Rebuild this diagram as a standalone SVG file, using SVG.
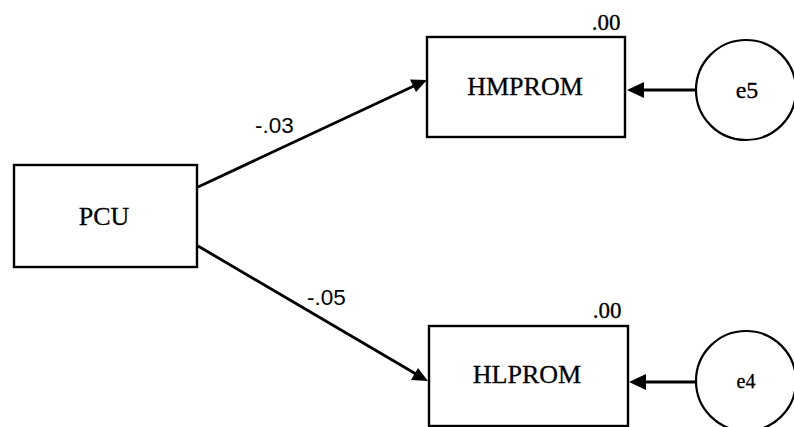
<svg xmlns="http://www.w3.org/2000/svg" width="794" height="427" viewBox="0 0 794 427">
<defs>
<style>
.box{fill:#fff;stroke:#000;stroke-width:2.4}
.circ{fill:#fff;stroke:#000;stroke-width:2.2}
.edge{stroke:#000;stroke-width:2.8;fill:none}
.head{fill:#000}
.t{font-family:"Liberation Serif","Times New Roman",serif;fill:#000;text-anchor:middle;stroke:#000;stroke-width:0.3}
.lbl{font-family:"Liberation Sans",Arial,sans-serif;fill:#000;font-size:22.5px}
</style>
</defs>
<rect width="794" height="427" fill="#fff"/>
<g id="connectors">
<line class="edge" x1="198" y1="187" x2="416" y2="85"/>
<path class="head" d="M427,80 L410,79.5 L416,92 z"/>
<line class="edge" x1="198" y1="246" x2="416" y2="374"/>
<path class="head" d="M428,381 L418,368 L411,380 z"/>
<line class="edge" x1="696" y1="90" x2="643" y2="90"/>
<path class="head" d="M627,90 L644,82 L644,98 z"/>
<line class="edge" x1="696" y1="382" x2="645" y2="382"/>
<path class="head" d="M629,382 L646,374 L646,390 z"/>
<text class="lbl" x="255" y="133">-.03</text>
<text class="lbl" x="307" y="305">-.05</text>
</g>
<g id="PCU">
<rect class="box" x="14" y="165" width="183" height="102"/>
<text class="t" x="104" y="225" font-size="26">PCU</text>
</g>
<g id="HMPROM">
<rect class="box" x="427" y="37" width="198" height="100"/>
<text class="t" x="525" y="95" font-size="26">HMPROM</text>
<text class="t" x="606" y="30" font-size="23">.00</text>
</g>
<g id="HLPROM">
<rect class="box" x="429" y="326" width="199" height="100"/>
<text class="t" x="527" y="383" font-size="26">HLPROM</text>
<text class="t" x="607" y="318" font-size="23">.00</text>
</g>
<g id="e5">
<circle class="circ" cx="746" cy="90" r="50"/>
<text class="t" x="747" y="98" font-size="24">e5</text>
</g>
<g id="e4">
<circle class="circ" cx="746" cy="381" r="50"/>
<text class="t" x="746" y="388" font-size="20">e4</text>
</g>
</svg>
